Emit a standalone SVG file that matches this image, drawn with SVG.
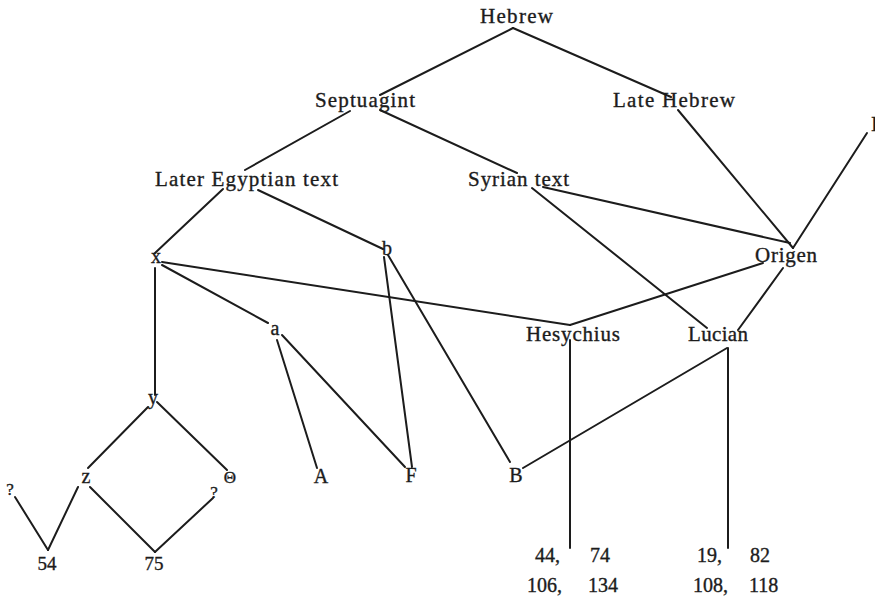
<svg xmlns="http://www.w3.org/2000/svg" width="875" height="599" viewBox="0 0 875 599">
<style>
.e{stroke:#1c1c1c;stroke-width:2;fill:none;stroke-linecap:round}
text{font-family:"Liberation Serif","Times New Roman",serif;fill:#1c1c1c;stroke:#1c1c1c;stroke-width:0.35}
.l{font-size:21px}
.s{font-size:20px;text-anchor:middle}
.n{font-size:20px}
.q{font-size:17px;text-anchor:middle}
</style>
<rect width="875" height="599" fill="#ffffff"/>
<g id="connectors">
<line class="e" x1="513" y1="28" x2="380" y2="95"/>
<line class="e" x1="513" y1="28" x2="671" y2="97"/>
<line class="e" x1="678" y1="110" x2="793" y2="248"/>
<line class="e" x1="350" y1="111" x2="245" y2="170"/>
<line class="e" x1="380" y1="110" x2="517" y2="173"/>
<line class="e" x1="223" y1="189" x2="155" y2="253"/>
<line class="e" x1="258" y1="190" x2="383" y2="249"/>
<line class="e" x1="543" y1="187" x2="790" y2="243"/>
<line class="e" x1="532" y1="188" x2="707" y2="328"/>
<line class="e" x1="867" y1="133" x2="793" y2="248"/>
<line class="e" x1="763" y1="263" x2="570" y2="325"/>
<line class="e" x1="162" y1="262" x2="570" y2="325"/>
<line class="e" x1="783" y1="268" x2="738" y2="330"/>
<line class="e" x1="727" y1="348" x2="523" y2="468"/>
<line class="e" x1="728" y1="348" x2="728" y2="548"/>
<line class="e" x1="570" y1="340" x2="570" y2="548"/>
<line class="e" x1="155" y1="268" x2="155" y2="395"/>
<line class="e" x1="162" y1="265" x2="268" y2="323"/>
<line class="e" x1="277" y1="340" x2="317" y2="468"/>
<line class="e" x1="282" y1="335" x2="405" y2="467"/>
<line class="e" x1="384" y1="257" x2="412" y2="467"/>
<line class="e" x1="388" y1="255" x2="510" y2="462"/>
<line class="e" x1="148" y1="407" x2="88" y2="468"/>
<line class="e" x1="157" y1="402" x2="227" y2="470"/>
<line class="e" x1="90" y1="487" x2="155" y2="552"/>
<line class="e" x1="155" y1="552" x2="213" y2="498"/>
<line class="e" x1="78" y1="487" x2="48" y2="550"/>
<line class="e" x1="15" y1="497" x2="48" y2="550"/>
</g>
<g id="hebrew"><text class="l" x="480" y="23" textLength="73" lengthAdjust="spacing">Hebrew</text></g>
<g id="septuagint"><text class="l" x="315" y="107" textLength="100" lengthAdjust="spacing">Septuagint</text></g>
<g id="late-hebrew"><text class="l" x="613" y="107" textLength="122" lengthAdjust="spacing">Late Hebrew</text></g>
<g id="later-egyptian"><text class="l" x="155" y="186" textLength="183" lengthAdjust="spacing">Later Egyptian text</text></g>
<g id="syrian"><text class="l" x="468" y="186" textLength="101" lengthAdjust="spacing">Syrian text</text></g>
<g id="origen"><text class="l" x="755" y="262" textLength="62" lengthAdjust="spacing">Origen</text></g>
<g id="hesychius"><text class="l" x="526" y="341" textLength="94" lengthAdjust="spacing">Hesychius</text></g>
<g id="lucian"><text class="l" x="688" y="341" textLength="60" lengthAdjust="spacing">Lucian</text></g>
<g id="cut"><text class="l" x="871" y="131">I</text></g>
<g id="x"><text class="s" x="156" y="263">x</text></g>
<g id="b"><text class="s" x="387" y="255">b</text></g>
<g id="a"><text class="s" x="275" y="335">a</text></g>
<g id="y"><text class="s" x="153" y="404">y</text></g>
<g id="z"><text class="s" x="86" y="483">z</text></g>
<g id="theta"><text class="s" x="230" y="483" style="font-size:17px">Θ</text></g>
<g id="q1"><text class="q" x="10" y="495">?</text></g>
<g id="q2"><text class="q" x="214" y="498">?</text></g>
<g id="A"><text class="s" x="321" y="483">A</text></g>
<g id="F"><text class="s" x="411" y="482">F</text></g>
<g id="B"><text class="s" x="516" y="482">B</text></g>
<g id="n54"><text class="s" x="47" y="570" style="font-size:19px">54</text></g>
<g id="n75"><text class="s" x="154" y="570" style="font-size:19px">75</text></g>
<g id="hes-mss">
<text class="n" y="562"><tspan x="535">44,</tspan><tspan x="590">74</tspan></text>
<text class="n" y="592"><tspan x="527">106,</tspan><tspan x="588">134</tspan></text>
</g>
<g id="luc-mss">
<text class="n" y="562"><tspan x="697">19,</tspan><tspan x="750">82</tspan></text>
<text class="n" y="592"><tspan x="693">108,</tspan><tspan x="749">118</tspan></text>
</g>
</svg>
